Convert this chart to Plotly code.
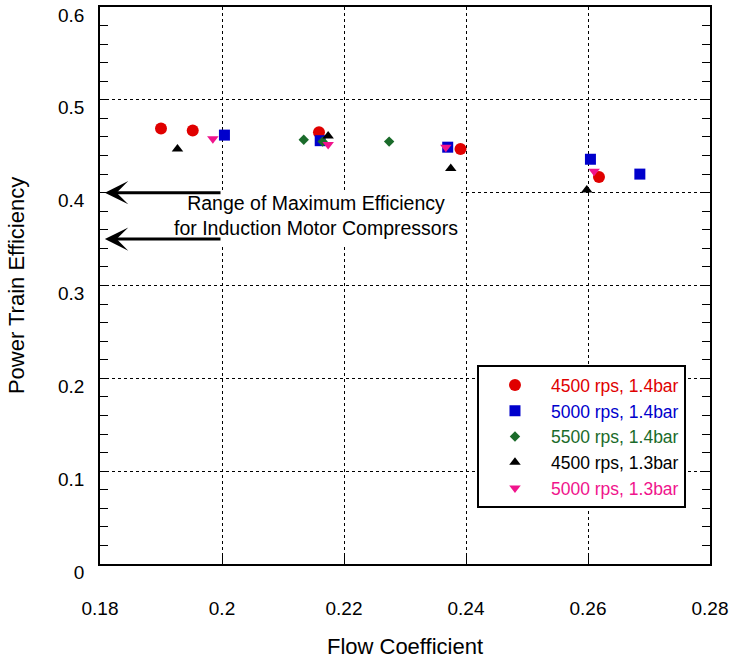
import plotly.graph_objects as go

# ---- data ----
series_names = ["4500 rps, 1.4bar", "5000 rps, 1.4bar", "5500 rps, 1.4bar",
                "4500 rps, 1.3bar", "5000 rps, 1.3bar"]

x_4500_14 = [0.1900, 0.1952, 0.2159, 0.2391, 0.2618]
y_4500_14 = [0.469, 0.467, 0.465, 0.447, 0.417]

x_5000_14 = [0.2004, 0.2161, 0.2370, 0.2604, 0.2685]
y_5000_14 = [0.462, 0.456, 0.449, 0.436, 0.420]

x_5500_14 = [0.2134, 0.2165, 0.2274]
y_5500_14 = [0.457, 0.455, 0.455]

x_4500_13 = [0.1927, 0.2174, 0.2375, 0.2598]
y_4500_13 = [0.447, 0.461, 0.426, 0.403]

x_5000_13 = [0.1985, 0.2174, 0.2367, 0.2610]
y_5000_13 = [0.458, 0.452, 0.449, 0.423]

x_ticks = [0.18, 0.2, 0.22, 0.24, 0.26, 0.28]
x_tick_labels = ["0.18", "0.2", "0.22", "0.24", "0.26", "0.28"]
y_ticks = [0, 0.1, 0.2, 0.3, 0.4, 0.5, 0.6]
y_tick_labels = ["0", "0.1", "0.2", "0.3", "0.4", "0.5", "0.6"]

arrow_levels = [0.40, 0.35]
arrow_tail_x = 0.2
arrow_head_x = 0.1808
note_lines = ["Range of Maximum Efficiency", "for Induction Motor Compressors"]

# ---- styles ----
FONT = "Liberation Sans, Arial, sans-serif"
colors = ["#e00000", "#0000cc", "#1a6b2a", "#000000", "#f0148c"]
symbols = ["circle", "square", "diamond", "triangle-up", "triangle-down"]
sizes = [12, 11, 8, 10, 10]

xs = [x_4500_14, x_5000_14, x_5500_14, x_4500_13, x_5000_13]
ys = [y_4500_14, y_5000_14, y_5500_14, y_4500_13, y_5000_13]

fig = go.Figure()
for name, x, y, c, s, sz in zip(series_names, xs, ys, colors, symbols, sizes):
    fig.add_trace(go.Scatter(
        x=x, y=y, mode="markers",
        name=f"<span style='color:{c}'>{name}</span>",
        marker=dict(color=c, symbol=s, size=sz, line=dict(width=0)),
    ))

# white box hiding gridlines behind the note
fig.add_shape(type="rect", xref="x", yref="y", layer="between",
              x0=0.1995, x1=0.2392, y0=0.344, y1=0.402,
              fillcolor="white", line=dict(width=0))

for lvl in arrow_levels:
    fig.add_annotation(x=arrow_head_x, y=lvl, ax=arrow_tail_x, ay=lvl,
                       xref="x", yref="y", axref="x", ayref="y",
                       text="", showarrow=True, arrowhead=3, arrowsize=1.3,
                       arrowwidth=3, arrowcolor="black", standoff=0, startstandoff=0)

fig.add_annotation(x=0.2154, y=0.375, xref="x", yref="y",
                   text="<br>".join(note_lines), showarrow=False,
                   xanchor="center", yanchor="middle", align="center",
                   font=dict(family=FONT, size=19.5, color="black"))

axis_common = dict(
    showline=True, linecolor="black", linewidth=1.5,
    showgrid=True, gridcolor="black", gridwidth=1, griddash="3px,3px",
    zeroline=False, ticks="inside", ticklen=8, tickcolor="black", tickwidth=1,
    tickfont=dict(family=FONT, size=19, color="black"),
)

fig.update_xaxes(
    **axis_common, range=[0.18, 0.28], tickvals=x_ticks, ticktext=x_tick_labels,
    mirror=True, ticklabelstandoff=26, ticklabeloverflow="allow",
    title=dict(text="Flow Coefficient", font=dict(family=FONT, size=22, color="black"), standoff=26),
)
fig.update_yaxes(
    **axis_common, range=[0, 0.6], tickvals=y_ticks, ticktext=y_tick_labels,
    mirror="ticks", ticklabelstandoff=10, ticklabelshift=8, ticklabeloverflow="allow",
    minor=dict(dtick=0.02, tick0=0, ticks="inside", ticklen=8, tickcolor="black", showgrid=False),
    title=dict(text="Power Train Efficiency", font=dict(family=FONT, size=22, color="black"), standoff=27),
)

fig.update_layout(
    width=730, height=659,
    margin=dict(l=100, r=20, t=7, b=95, autoexpand=False),
    plot_bgcolor="white", paper_bgcolor="white",
    font=dict(family=FONT, size=19, color="black"),
    legend=dict(x=0.618, y=0.357, xanchor="left", yanchor="top",
                bgcolor="white", bordercolor="black", borderwidth=2,
                itemwidth=62, font=dict(family=FONT, size=17.5),
                tracegroupgap=0),
    showlegend=True,
)

fig.write_html("out.html", config={"displayModeBar": False},
               post_script="document.body.style.margin='0';document.body.style.overflow='hidden';")
